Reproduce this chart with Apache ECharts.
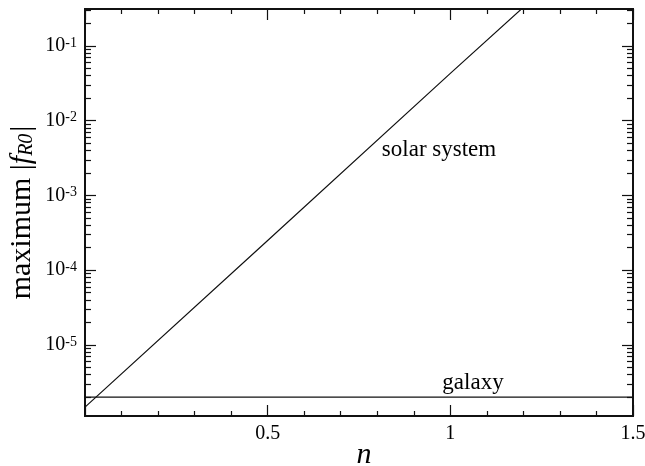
<!DOCTYPE html>
<html>
<head>
<meta charset="utf-8">
<script src="https://cdn.jsdelivr.net/npm/echarts@6/dist/echarts.min.js"></script>
<style>
  html, body { margin: 0; padding: 0; background: #fff; }
  #chart { width: 645px; height: 466px; }
</style>
</head>
<body>
<div id="chart"></div>
<script>
// Bound on |f_R0| versus the power-law index n
const solarN = [0, 0.5, 1.0, 1.2];
const solarMax = [1.47e-6, 2.5e-4, 4.3e-2, 0.33];
const galaxyN = [0, 1.5];
const galaxyMax = [2.0e-6, 2.0e-6];

const curveNames = ['solar system', 'galaxy'];
const xLabelValues = [0.5, 1, 1.5];
const yMajorValues = [1e-5, 1e-4, 1e-3, 1e-2, 1e-1];
const yMinorValues = [];
for (let e = -6; e <= -1; e++) {
  for (let k = 2; k <= 9; k++) yMinorValues.push(+(k * Math.pow(10, e)).toPrecision(3));
}

const Y_MIN = 1.12e-6;
const Y_MAX = 0.3126;
const FONT = '"Liberation Serif", "DejaVu Serif", serif';
const INK = '#111';
const TEXT = '#000';

function pairs(xs, ys) { return xs.map((x, i) => [x, ys[i]]); }

function expLabel(v) {
  const p = Math.round(Math.log10(v));
  return '{b|10}{e|' + p + '}';
}

function yAxisDef(position, major) {
  return {
    type: 'log',
    logBase: 10,
    position: position,
    min: Y_MIN,
    max: Y_MAX,
    axisLine: { show: true, lineStyle: { color: INK, width: 2 } },
    axisTick: {
      show: true,
      inside: true,
      length: major ? 11 : 6,
      customValues: major ? yMajorValues : yMinorValues,
      lineStyle: { color: INK, width: 1.2 }
    },
    axisLabel: {
      show: major && position === 'left',
      customValues: yMajorValues,
      margin: 8,
      formatter: expLabel,
      rich: {
        b: { fontFamily: FONT, fontSize: 20, color: TEXT, verticalAlign: 'bottom' },
        e: { fontFamily: FONT, fontSize: 14, color: TEXT, verticalAlign: 'top' }
      }
    },
    splitLine: { show: false },
    minorTick: { show: false },
    name: (major && position === 'left') ? '{t|maximum |}{i|f}{s|R0}{t||}' : '',
    nameLocation: 'middle',
    nameRotate: 90,
    nameGap: 48,
    nameMoveOverlap: false,
    nameTextStyle: {
      rich: {
        t: { fontFamily: FONT, fontSize: 30, color: TEXT, verticalAlign: 'bottom' },
        i: { fontFamily: FONT, fontSize: 30, fontStyle: 'italic', color: TEXT, verticalAlign: 'bottom' },
        s: { fontFamily: FONT, fontSize: 20, fontStyle: 'italic', color: TEXT, verticalAlign: 'bottom', padding: [0, 2, 0, 0] }
      }
    }
  };
}

function xAxisDef(position) {
  return {
    type: 'value',
    position: position,
    min: 0,
    max: 1.5,
    interval: 0.5,
    axisLine: { show: true, lineStyle: { color: INK, width: 2 } },
    axisTick: { show: true, inside: true, length: 11, lineStyle: { color: INK, width: 1.2 } },
    minorTick: { show: true, splitNumber: 5, length: 5, lineStyle: { color: INK, width: 1.2 } },
    axisLabel: {
      show: position === 'bottom',
      customValues: xLabelValues,
      margin: 8,
      fontFamily: FONT,
      fontSize: 20,
      color: TEXT
    },
    splitLine: { show: false },
    minorSplitLine: { show: false },
    name: position === 'bottom' ? 'n' : '',
    nameLocation: 'middle',
    nameGap: 24,
    nameMoveOverlap: false,
    nameTextStyle: { fontFamily: FONT, fontSize: 30, fontStyle: 'italic', color: TEXT, padding: [0, 0, 0, 10] }
  };
}

// curve captions, anchored in data space next to each curve
function caption(text, at) {
  return {
    type: 'scatter',
    xAxisIndex: 0,
    yAxisIndex: 0,
    data: [at],
    symbol: 'circle',
    symbolSize: 1,
    silent: true,
    itemStyle: { color: 'rgba(0,0,0,0)', opacity: 1 },
    label: {
      show: true,
      position: 'inside',
      formatter: text,
      fontFamily: FONT,
      fontSize: 23,
      color: TEXT,
      opacity: 1
    },
    z: 5
  };
}

const chart = echarts.init(document.getElementById('chart'), null, { renderer: 'canvas' });
chart.setOption({
  animation: false,
  backgroundColor: '#fff',
  grid: { left: 85, right: 12, top: 9, bottom: 50, containLabel: false, outerBoundsMode: 'none' },
  xAxis: [xAxisDef('bottom'), xAxisDef('top')],
  yAxis: [yAxisDef('left', true), yAxisDef('left', false), yAxisDef('right', true), yAxisDef('right', false)],
  series: [
    {
      name: curveNames[0],
      type: 'line',
      data: pairs(solarN, solarMax),
      xAxisIndex: 0,
      yAxisIndex: 0,
      showSymbol: false,
      symbol: 'none',
      clip: true,
      lineStyle: { color: INK, width: 1.2 }
    },
    {
      name: curveNames[1],
      type: 'line',
      data: pairs(galaxyN, galaxyMax),
      xAxisIndex: 0,
      yAxisIndex: 0,
      showSymbol: false,
      symbol: 'none',
      clip: true,
      lineStyle: { color: INK, width: 1.2 }
    },
    caption(curveNames[0], [0.969, 4.06e-3]),
    caption(curveNames[1], [1.062, 3.1e-6])
  ]
});
</script>
</body>
</html>
